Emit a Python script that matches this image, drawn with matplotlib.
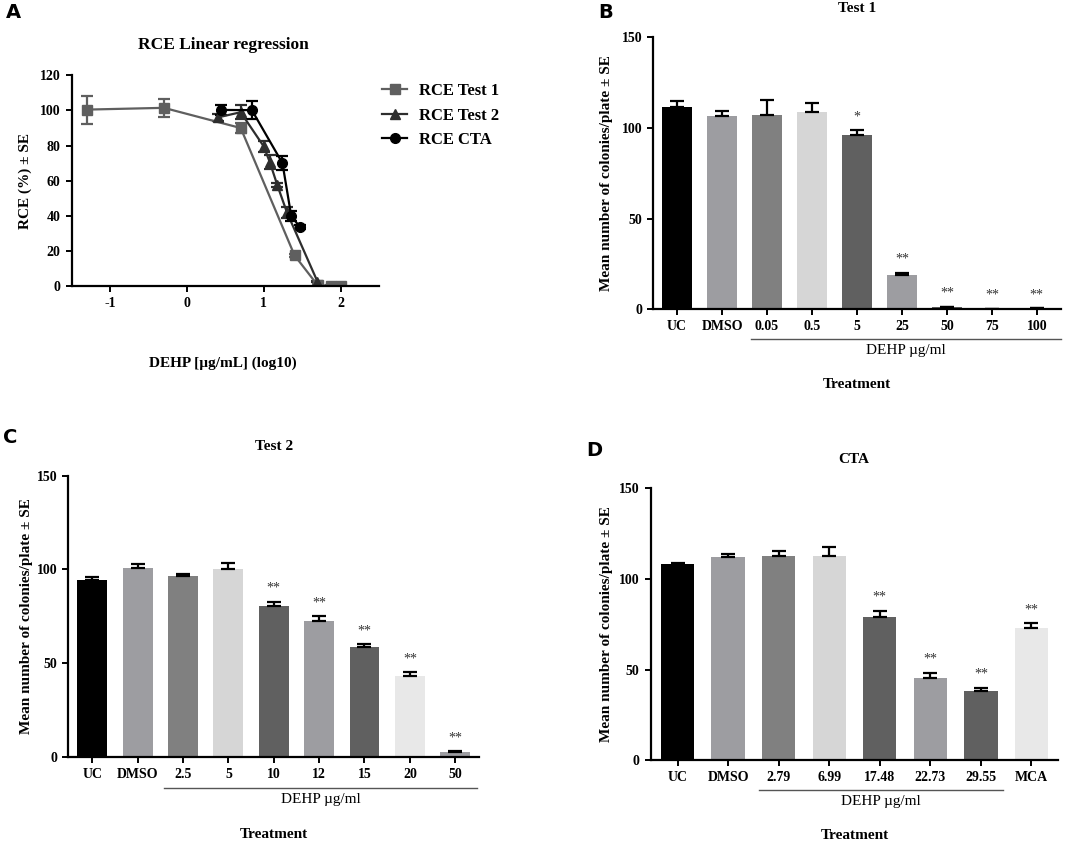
import numpy as np
import matplotlib
matplotlib.use("Agg")
import matplotlib.pyplot as plt
from matplotlib.lines import Line2D

plt.rcParams['font.family'] = ['Liberation Serif', 'DejaVu Serif']
plt.rcParams['font.weight'] = 'bold'

# ---- panel A: RCE linear regression ----
t1_x = [-1.30, -0.30, 0.70, 1.40, 1.70, 1.875, 2.0]
t1_y = [100.5, 101.5, 90.0, 17.5, 0.5, 0.2, 0.3]
t1_e = [8.0, 5.0, 3.0, 1.0, 0.5, 0.2, 0.2]

t2_x = [0.398, 0.699, 1.0, 1.079, 1.176, 1.301, 1.699]
t2_y = [96.0, 99.0, 79.5, 70.5, 57.5, 42.0, 2.5]
t2_e = [2.0, 4.0, 3.0, 4.0, 1.0, 3.0, 0.3]

cta_x = [0.446, 0.845, 1.243, 1.357, 1.471]
cta_y = [100.3, 100.2, 70.0, 40.0, 33.5]
cta_e = [3.0, 5.0, 4.0, 3.0, 1.0]

# ---- panel B: Test 1 ----
b_labels = ['UC', 'DMSO', '0.05', '0.5', '5', '25', '50', '75', '100']
b_means = [111.4, 106.6, 107.2, 108.7, 96.1, 19.0, 1.2, 0.3, 0.5]
b_err = [3.6, 3.0, 8.0, 5.0, 2.6, 1.2, 0.3, 0.1, 0.2]
b_stars = ['', '', '', '', '*', '**', '**', '**', '**']

# ---- panel C: Test 2 ----
c_labels = ['UC', 'DMSO', '2.5', '5', '10', '12', '15', '20', '50']
c_means = [94.2, 100.6, 96.5, 100.4, 80.6, 72.4, 58.6, 43.1, 2.7]
c_err = [1.9, 2.1, 1.0, 3.2, 2.0, 2.7, 1.4, 2.0, 0.3]
c_stars = ['', '', '', '', '**', '**', '**', '**', '**']

# ---- panel D: CTA ----
d_labels = ['UC', 'DMSO', '2.79', '6.99', '17.48', '22.73', '29.55', 'MCA']
d_means = [108.3, 112.3, 112.7, 112.5, 78.9, 45.2, 38.4, 73.0]
d_err = [0.3, 1.5, 2.7, 5.3, 3.5, 3.1, 1.7, 2.6]
d_stars = ['', '', '', '', '**', '**', '**', '**']

BLACK = '#000000'
MID = '#9d9da1'
GREY = '#808080'
LIGHT = '#d6d6d6'
DARK = '#606060'
PALE = '#e8e8e8'
b_colors = [BLACK, MID, GREY, LIGHT, DARK, MID, DARK, PALE, MID]
c_colors = [BLACK, MID, GREY, LIGHT, DARK, MID, DARK, PALE, MID]
d_colors = [BLACK, MID, GREY, LIGHT, DARK, MID, DARK, PALE]

W, H = 1065, 842
fig = plt.figure(figsize=(W / 100, H / 100), dpi=100)

axA = fig.add_axes([0.0673, 0.6603, 0.2886, 0.2502])
axB = fig.add_axes([0.6134, 0.6327, 0.3825, 0.3230])
axC = fig.add_axes([0.0641, 0.1013, 0.3859, 0.3337])
axD = fig.add_axes([0.6110, 0.0970, 0.3827, 0.3230])


def style_axes(ax):
    for s in ['top', 'right']:
        ax.spines[s].set_visible(False)
    for s in ['left', 'bottom']:
        ax.spines[s].set_linewidth(1.6)
    ax.tick_params(direction='out', length=4.5, width=1.4, labelsize=10)
    for lab in ax.get_xticklabels() + ax.get_yticklabels():
        lab.set_fontweight('bold')


def fig_text(px, py, s, **kw):
    fig.text(px / W, 1 - py / H, s, ha='center', va='center', **kw)


# panel A
styles = [('#5f5f5f', 's', 'RCE Test 1'), ('#2e2e2e', '^', 'RCE Test 2'),
          ('#000000', 'o', 'RCE CTA')]
for (xs, ys, es), (col, mk, lab) in zip([(t1_x, t1_y, t1_e), (t2_x, t2_y, t2_e),
                                         (cta_x, cta_y, cta_e)], styles):
    axA.errorbar(xs, ys, yerr=es, color=col, marker=mk, ms=7, lw=1.6,
                 capsize=4, capthick=1.6, elinewidth=1.6)
axA.set_xlim(-1.5, 2.5)
axA.set_ylim(0, 120)
axA.set_xticks([-1, 0, 1, 2])
axA.set_xticklabels(['-1', '0', '1', '2'])
axA.set_yticks(range(0, 121, 20))
axA.spines['bottom'].set_position(('data', 0))
style_axes(axA)
axA.set_ylabel('RCE (%) ± SE', fontsize=11, fontweight='bold')
axA.yaxis.label.set_verticalalignment('center')
axA.yaxis.set_label_coords(-0.152, 0.5)
fig_text(223, 45, 'RCE Linear regression', fontsize=12.5, fontweight='bold')
fig_text(223, 363, 'DEHP [µg/mL] (log10)', fontsize=11, fontweight='bold')
handles = [Line2D([], [], color=c, marker=m, ms=7, lw=1.6) for c, m, _ in styles]
leg = axA.legend(handles, [l for _, _, l in styles], loc='upper left',
                 bbox_to_anchor=(1.0, 0.978), frameon=False, fontsize=12,
                 handlelength=1.5, labelspacing=0.5, handletextpad=0.7,
                 borderaxespad=0, borderpad=0.2)
for t in leg.get_texts():
    t.set_fontweight('bold')


def bar_panel(ax, labels, means, err, colors, stars, title, title_xy, dehp_from, dehp_to, ylab_x):
    x = np.arange(len(labels))
    ax.bar(x, means, width=0.66, color=colors, zorder=2)
    ax.errorbar(x, means, yerr=[np.zeros(len(err)), err], fmt='none',
                ecolor='black', elinewidth=1.6, capsize=4.7, capthick=1.6, zorder=3)
    for i, s in enumerate(stars):
        if s:
            ax.annotate(s, (x[i], means[i] + err[i]), xytext=(0, 5),
                        textcoords='offset points', ha='center', va='bottom',
                        fontsize=10, fontweight='normal', color='#333333')
    ax.set_xlim(-0.53, len(labels) - 0.47)
    ax.set_ylim(0, 150)
    ax.set_yticks([0, 50, 100, 150])
    ax.set_xticks(x)
    ax.set_xticklabels(labels)
    style_axes(ax)
    fig_text(title_xy[0], title_xy[1], title, fontsize=11, fontweight='bold')
    ax.set_ylabel('Mean number of colonies/plate ± SE', fontsize=11, fontweight='bold')
    ax.yaxis.label.set_verticalalignment('center')
    ax.yaxis.set_label_coords(ylab_x, 0.5)
    tr = ax.get_xaxis_transform()
    ax.plot([dehp_from, dehp_to], [-0.11, -0.11], color='#555555', lw=1.0,
            transform=tr, clip_on=False)
    ax.text((dehp_from + dehp_to) / 2, -0.153, 'DEHP µg/ml', transform=tr,
            ha='center', va='center', fontsize=11, fontweight='normal')
    ax.text(0.5, -0.278, 'Treatment', transform=ax.transAxes,
            ha='center', va='center', fontsize=11, fontweight='bold')


bar_panel(axB, b_labels, b_means, b_err, b_colors, b_stars, 'Test 1', (857, 8),
          1.64, 8.53, -0.114)
bar_panel(axC, c_labels, c_means, c_err, c_colors, c_stars, 'Test 2', (274, 446),
          1.59, 8.49, -0.101)
bar_panel(axD, d_labels, d_means, d_err, d_colors, d_stars, 'CTA', (854, 459),
          1.62, 6.44, -0.108)

for lab, (px, py) in zip('ABCD', [(6, 12), (598, 12), (3, 438), (586, 451)]):
    fig.text(px / W, 1 - py / H, lab, family='DejaVu Sans', fontsize=14,
             fontweight='bold', ha='left', va='center')

fig.savefig('out.png', dpi=100)
